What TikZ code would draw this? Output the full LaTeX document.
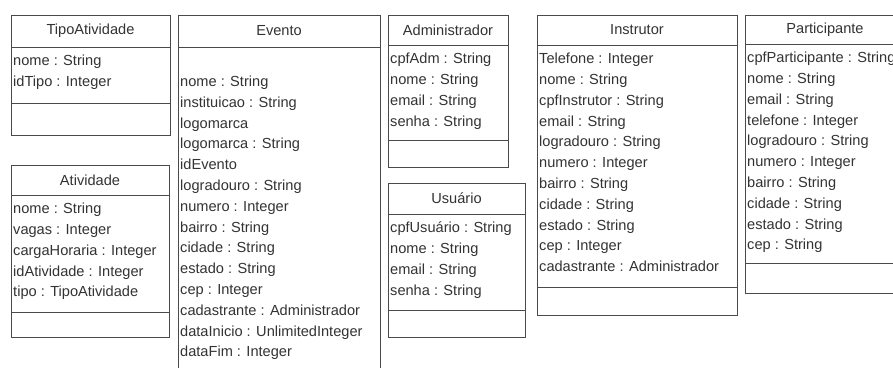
\documentclass[tikz,border=0pt]{standalone}
\usepackage{fontspec}
\usepackage{tikz}
\usetikzlibrary{positioning}
\newfontfamily\umlfont{Liberation Sans}
\newcommand{\umlsize}{\umlfont\fontsize{14.6}{20.8}\selectfont}
\definecolor{umlline}{HTML}{4A4A4A}
\definecolor{umltxt}{HTML}{333333}

\begin{document}
\begin{tikzpicture}[
  x=1pt, y=-1pt,
  hdr/.style={
    rectangle, draw=umlline, fill=white, line width=1pt,
    outer sep=0pt, inner sep=0pt, anchor=north west,
    font=\umlsize, text=umltxt
  },
  cmp/.style={
    rectangle, draw=umlline, line width=1pt,
    outer sep=0pt, inner sep=0pt
  },
  attrs/.style={
    anchor=north west, align=left, inner xsep=2pt, inner ysep=8pt,
    font=\umlsize, text=umltxt, execute at begin node=\strut
  },
]
  \useasboundingbox (0,0) rectangle (893,367);
  \clip (0,0) rectangle (893,367);
  \fill[white] (0,0) rectangle (893,367);

  % TipoAtividade
  \node[hdr, minimum width=159pt, minimum height=32pt] (tipo) at (11,15) {TipoAtividade};
  \node[cmp, minimum width=159pt, minimum height=56pt, below=0pt of tipo] (tipoAttr) {};
  \node[cmp, minimum width=159pt, minimum height=32pt, below=0pt of tipoAttr] (tipoOps) {};
  \node[attrs] (tipoTxt) at (tipoAttr.north west) {nome : String\\idTipo : Integer};

  % Atividade
  \node[hdr, minimum width=158pt, minimum height=30pt] (ativ) at (11,165) {Atividade};
  \node[cmp, minimum width=158pt, minimum height=117pt, below=0pt of ativ] (ativAttr) {};
  \node[cmp, minimum width=158pt, minimum height=25pt, below=0pt of ativAttr] (ativOps) {};
  \node[attrs] (ativTxt) at (ativAttr.north west) {nome : String\\vagas : Integer\\cargaHoraria : Integer\\idAtividade : Integer\\tipo : TipoAtividade};

  % Evento
  \node[hdr, minimum width=202pt, minimum height=32pt] (evento) at (178,15) {Evento};
  \node[cmp, minimum width=202pt, minimum height=380pt, below=0pt of evento] (eventoAttr) {};
  \node[attrs, yshift=-20.8pt] (eventoTxt) at (eventoAttr.north west) {nome : String\\instituicao : String\\logomarca\\logomarca : String\\idEvento\\logradouro : String\\numero : Integer\\bairro : String\\cidade : String\\estado : String\\cep : Integer\\cadastrante : Administrador\\dataInicio : UnlimitedInteger\\dataFim : Integer};

  % Administrador
  \node[hdr, minimum width=120pt, minimum height=30pt] (adm) at (388,15) {Administrador};
  \node[cmp, minimum width=120pt, minimum height=95pt, below=0pt of adm] (admAttr) {};
  \node[cmp, minimum width=120pt, minimum height=27pt, below=0pt of admAttr] (admOps) {};
  \node[attrs] (admTxt) at (admAttr.north west) {cpfAdm : String\\nome : String\\email : String\\senha : String};

  % Usuario
  \node[hdr, minimum width=137pt, minimum height=31pt] (usr) at (388,183) {Usuário};
  \node[cmp, minimum width=137pt, minimum height=96pt, below=0pt of usr] (usrAttr) {};
  \node[cmp, minimum width=137pt, minimum height=27pt, below=0pt of usrAttr] (usrOps) {};
  \node[attrs] (usrTxt) at (usrAttr.north west) {cpfUsuário : String\\nome : String\\email : String\\senha : String};

  % Instrutor
  \node[hdr, minimum width=200pt, minimum height=30pt] (instr) at (537,15) {Instrutor};
  \node[cmp, minimum width=200pt, minimum height=242pt, below=0pt of instr] (instrAttr) {};
  \node[cmp, minimum width=200pt, minimum height=28pt, below=0pt of instrAttr] (instrOps) {};
  \node[attrs] (instrTxt) at (instrAttr.north west) {Telefone : Integer\\nome : String\\cpfInstrutor : String\\email : String\\logradouro : String\\numero : Integer\\bairro : String\\cidade : String\\estado : String\\cep : Integer\\cadastrante : Administrador};

  % Participante
  \node[hdr, minimum width=160pt, minimum height=29pt] (part) at (745,15) {Participante};
  \node[cmp, minimum width=160pt, minimum height=219pt, below=0pt of part] (partAttr) {};
  \node[cmp, minimum width=160pt, minimum height=30pt, below=0pt of partAttr] (partOps) {};
  \node[attrs] (partTxt) at (partAttr.north west) {cpfParticipante : String\\nome : String\\email : String\\telefone : Integer\\logradouro : String\\numero : Integer\\bairro : String\\cidade : String\\estado : String\\cep : String};
\end{tikzpicture}
\end{document}
